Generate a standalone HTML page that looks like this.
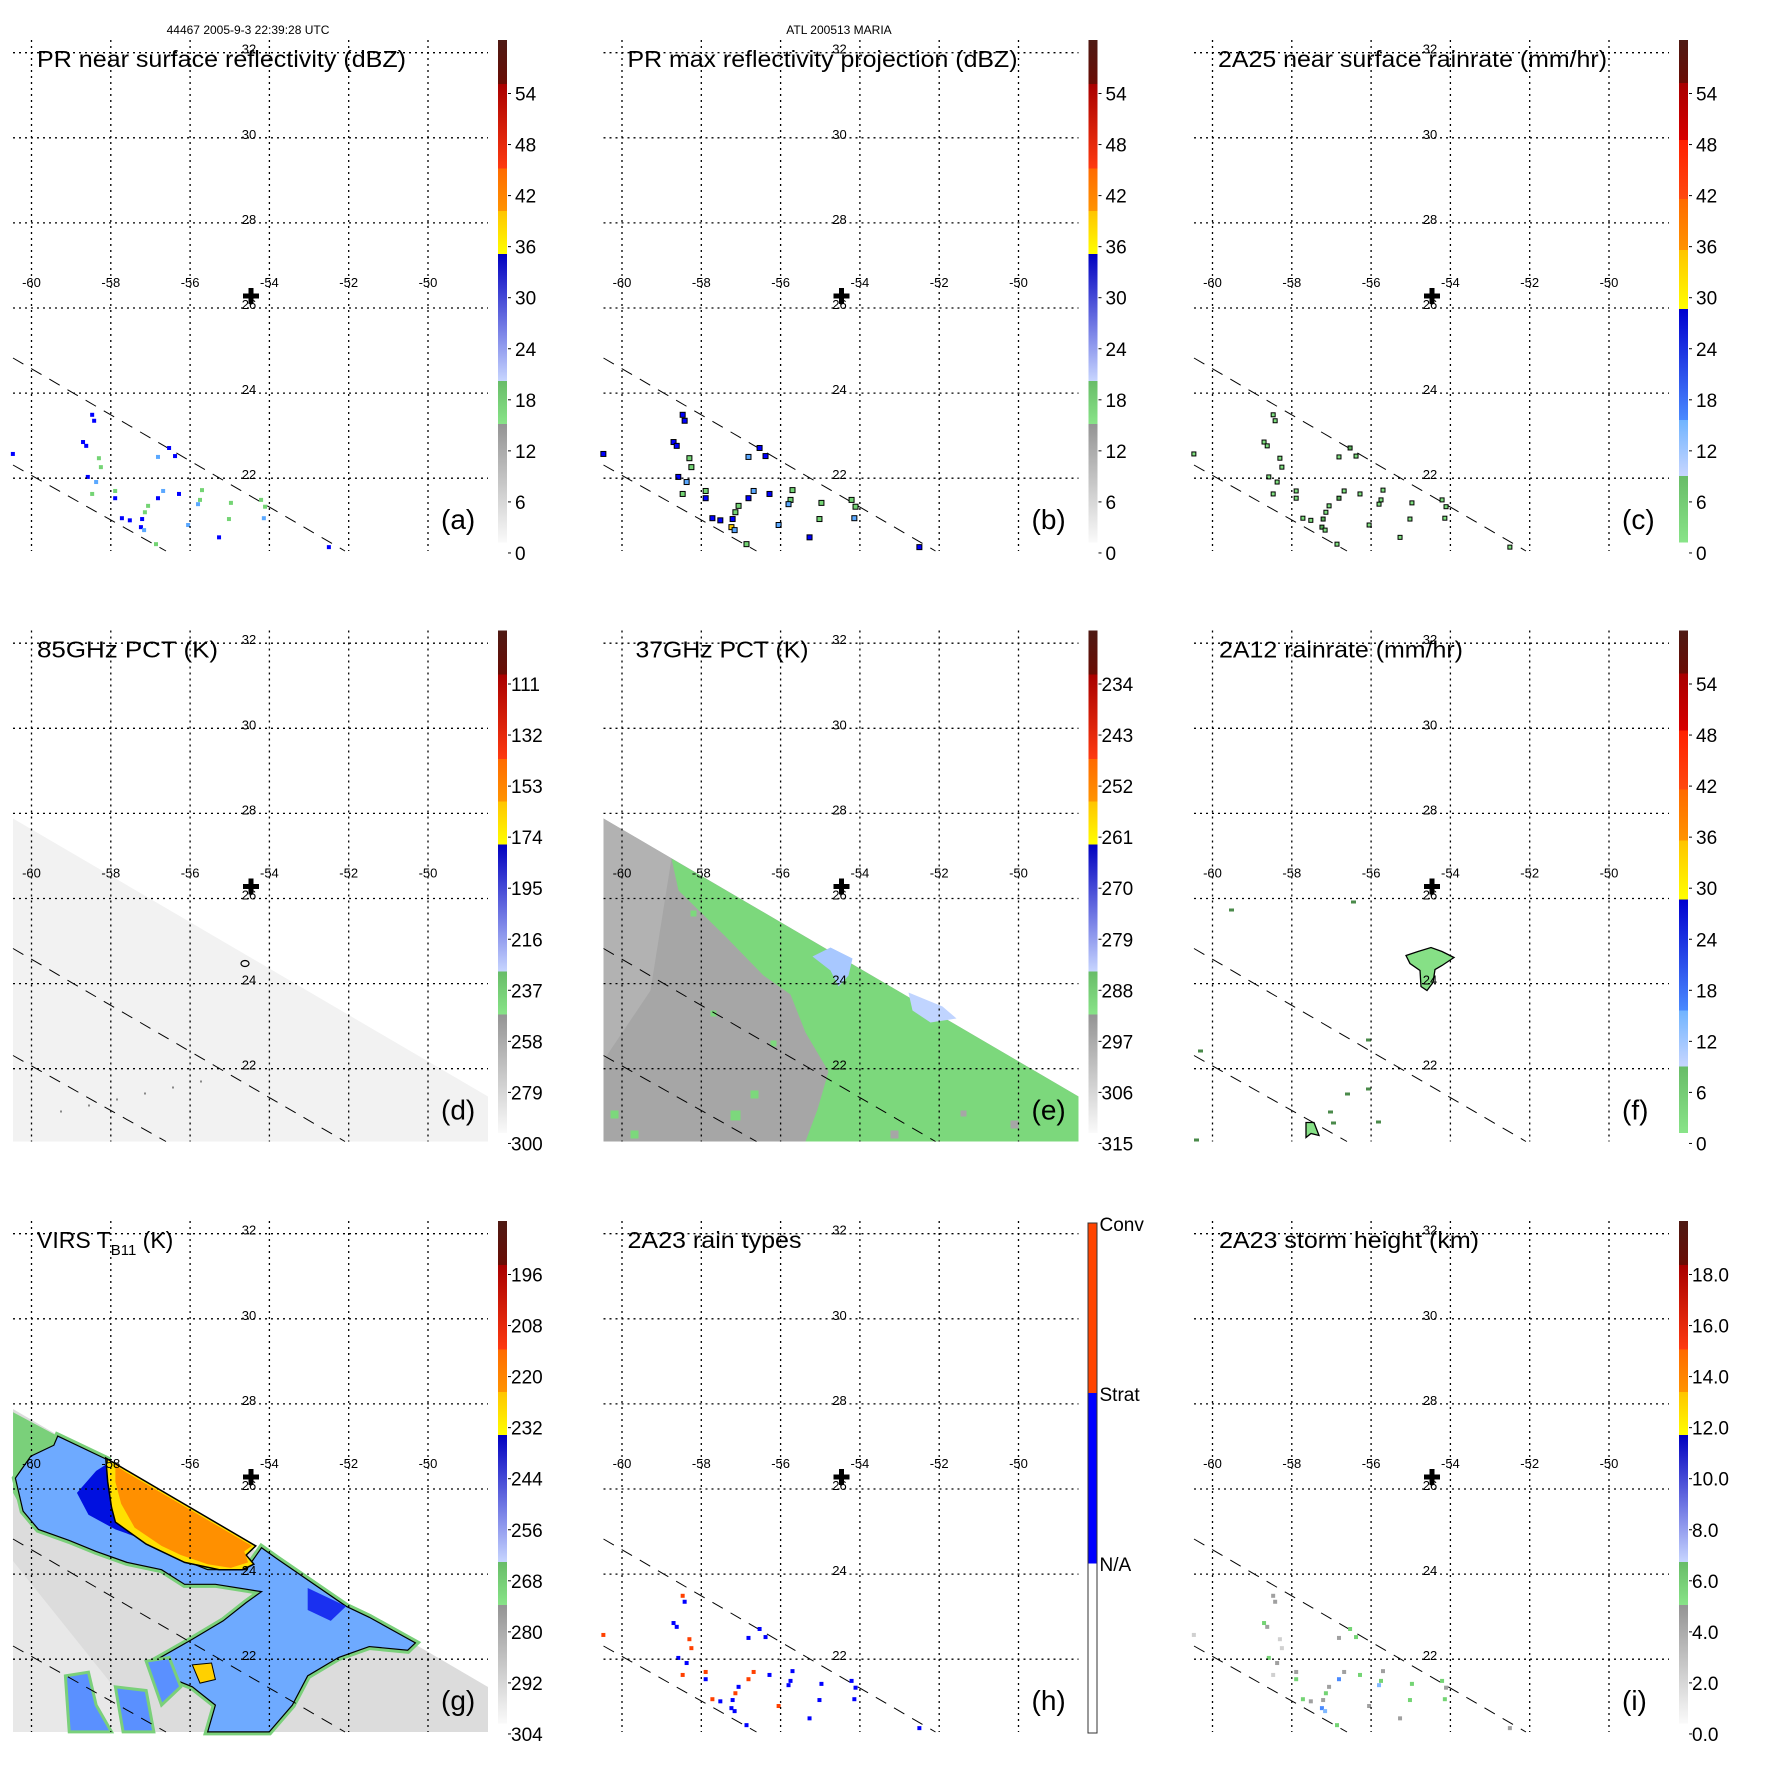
<!DOCTYPE html>
<html><head><meta charset="utf-8">
<style>
html,body{margin:0;padding:0;background:#fff;}
svg{display:block;font-family:"Liberation Sans",Arial,sans-serif;}
</style></head>
<body>
<svg id="fig" width="1771" height="1771" viewBox="0 0 1771 1771" xmlns="http://www.w3.org/2000/svg">
<defs id="defs"></defs>
<text x="248" y="34" font-size="12" text-anchor="middle">44467 2005-9-3 22:39:28 UTC</text>
<text x="839" y="34" font-size="12" text-anchor="middle">ATL 200513 MARIA</text>
</svg>
<script>
// ---- data ----
const lonTicks = [-60,-58,-56,-54,-52,-50];
const latTicks = [32,30,28,26,24,22];
const ptLon = [-58.47,-58.42,-58.70,-58.62,-56.53,-56.38,-56.81,-58.30,-58.25,-58.58,-58.37,-58.47,-57.89,-57.89,-56.81,-56.28,-55.75,-55.80,-54.97,-54.21,-54.11,-57.72,-57.52,-57.21,-57.14,-57.24,-57.16,-56.05,-55.27,-55.02,-52.50,-60.47,-56.86,-57.06,-56.68,-54.14,-55.70];
const ptLat = [23.49,23.35,22.85,22.76,22.71,22.52,22.50,22.47,22.26,22.03,21.91,21.63,21.70,21.53,21.53,21.63,21.49,21.39,21.42,21.49,21.33,21.06,21.01,21.04,21.20,20.85,20.78,20.90,20.61,21.04,20.38,22.57,20.45,21.35,21.70,21.06,21.72];
const ptDbz = [30,30,30,30,31,30,24,18,18,30,24,18,18,30,31,30,18,24,18,18,18,30,30,30,18,32,24,24,30,18,30,30,18,18,24,24,18];
const ptRain = [4,4,5,4,6,5,3,2,2,5,3,2,2,5,6,5,2,3,2,2,2,5,5,6,2,6,3,3,5,2,5,4,2,2,3,3,2];
const ptType = [1,2,2,2,2,2,2,1,1,2,2,1,1,2,1,2,2,2,2,2,2,1,2,2,1,2,2,1,2,2,2,1,2,2,1,2,2];
const ptHeight = [3,3,5,3,6,6,3,2,2,6,3,2,3,6,7,6,5,8,5,5,3,6,3,3,5,7,8,3,3,5,3,2,5,3,3,5,3];
const barLabelsA = ["54","48","42","36","30","24","18","12","6","0"];
const barLabelsD = ["111","132","153","174","195","216","237","258","279","300"];
const barLabelsE = ["234","243","252","261","270","279","288","297","306","315"];
const barLabelsG = ["196","208","220","232","244","256","268","280","292","304"];
const barLabelsI = ["18.0","16.0","14.0","12.0","10.0","8.0","6.0","4.0","2.0","0.0"];

const NS="http://www.w3.org/2000/svg";
const svg=document.getElementById('fig');
const defs=document.getElementById('defs');
function mk(tag,attrs,parent){const e=document.createElementNS(NS,tag);for(const k in attrs)e.setAttribute(k,attrs[k]);(parent||svg).appendChild(e);return e;}
function X(lon){return 31.5+(lon+60)*39.65;}
function Y(lat){return 52.7+(32-lat)*42.55;}

const grads={
 dr:['#4e1a14','#6a0c04'], rd:['#a80000','#ff3a10'], rd2:['#a80000','#d80000'], rr:['#ff2000','#ff4a10'],
 or:['#ff6a00','#ff9400'], ye:['#ffc400','#ffff00'],
 bl:['#0000c0','#c8d6ff'], bl2:['#0000d0','#4a8aff'], lb:['#70b4ff','#c8d6ff'],
 gr:['#68bc68','#88e488'], gy:['#949494','#fafafa']
};
for(const k in grads){const g=mk('linearGradient',{id:'g_'+k,x1:0,y1:0,x2:0,y2:1},defs);
 mk('stop',{offset:'0','stop-color':grads[k][0]},g);mk('stop',{offset:'1','stop-color':grads[k][1]},g);}
const barA=[[40,84,'dr'],[84,168.5,'rd'],[168.5,211,'or'],[211,254,'ye'],[254,381,'bl'],[381,424,'gr'],[424,542,'gy']];
const barR=[[40,83,'dr'],[83,140,'rd2'],[140,199,'rr'],[199,250,'or'],[250,309,'ye'],[309,420,'bl2'],[420,476,'lb'],[476,542,'gr']];

const swathEdge=[[13,228],[488,506],[488,551],[13,551]];

function colDbz(v){return v>=36?'#ffd000':v>=30?'#0000ff':v>=24?'#5aa8ff':v>=15?'#74d474':'#b0b0b0';}
function colRain(v){return v>=6?'#58b058':'#80e080';}
function colH(v){return v>=8?'#80b8ff':v>=7?'#4a8aff':v>=5?'#74d474':v>=3?'#a0a0a0':'#d0d0d0';}

const panels=[
 {id:'a',title:'PR near surface reflectivity (dBZ)',tx:37,tw:369,bar:'A',labels:barLabelsA,kind:'pts-dbz'},
 {id:'b',title:'PR max reflectivity projection (dBZ)',tx:37,tw:390,bar:'A',labels:barLabelsA,kind:'pts-max'},
 {id:'c',title:'2A25 near surface rainrate (mm/hr)',tx:37,tw:389,bar:'R',labels:barLabelsA,kind:'pts-rain'},
 {id:'d',title:'85GHz PCT (K)',tx:37,tw:181,bar:'A',labels:barLabelsD,kind:'d'},
 {id:'e',title:'37GHz PCT (K)',tx:45,tw:173,bar:'A',labels:barLabelsE,kind:'e'},
 {id:'f',title:'2A12 rainrate (mm/hr)',tx:38,tw:244,bar:'R',labels:barLabelsA,kind:'f'},
 {id:'g',title:'VIRS',tx:37,tw:148,bar:'A',labels:barLabelsG,kind:'g'},
 {id:'h',title:'2A23 rain types',tx:37,tw:174,bar:'H',labels:[],kind:'pts-type'},
 {id:'i',title:'2A23 storm height (km)',tx:38,tw:260,bar:'A',labels:barLabelsI,kind:'pts-h'}
];
const OFF=[0,590.5,1181];

function poly(g,pts,attrs){const a=Object.assign({points:pts.map(p=>p.join(',')).join(' ')},attrs);return mk('polygon',a,g);}

panels.forEach((p,i)=>{
 const g=mk('g',{transform:`translate(${OFF[i%3]},${OFF[Math.floor(i/3)]})`});
 
 
 const field=mk('g',{},g);
 
 

 if(p.kind==='d'){
  poly(field,swathEdge,{fill:'#f2f2f2'});
  for(let k=0;k<6;k++) mk('rect',{x:60+k*28,y:520-k*6,width:2,height:2,fill:'#888'},field);
  mk('ellipse',{cx:245,cy:373,rx:4,ry:3,fill:'none',stroke:'#000','stroke-width':1.2},field);
 }
 if(p.kind==='e'){
  poly(field,swathEdge,{fill:'#a6a6a6'});
  poly(field,[[13,228],[81,268],[60,400],[13,470]],{fill:'#b2b2b2'});
  poly(field,[[81,268],[88,300],[135,346],[173,385],[200,404],[215,442],[238,481],[227,519],[215,551],[488,551],[488,506]],{fill:'#7cd87c'});
  poly(field,[[222,366],[240,357],[262,368],[258,385],[248,396],[240,380]],{fill:'#a8c8ff'});
  poly(field,[[318,402],[352,416],[366,428],[340,432],[322,420]],{fill:'#c0d4ff'});
  [[20,520,8],[100,320,6],[120,420,6],[160,500,8],[180,450,6],[140,520,10],[40,540,8],[300,540,8],[370,520,6],[420,530,8]].forEach(r=>{
   mk('rect',{x:r[0],y:r[1],width:r[2],height:r[2],fill:r[0]>250?'#a6a6a6':'#7cd87c'},field);});
 }
 if(p.kind==='f'){
  poly(field,[[225,365],[237,361],[250,357],[261,361],[273,367],[261,375],[254,379],[252,392],[246,400],[240,396],[239,380],[229,373]],{fill:'#86e086',stroke:'#000','stroke-width':1.3});
  poly(field,[[125,532],[133,532],[138,545],[130,543],[125,547]],{fill:'#86e086',stroke:'#000','stroke-width':1.3});
  [[170,310],[48,318],[185,448],[17,459],[164,502],[150,531],[195,530],[13,548],[185,497],[147,520]].forEach(r=>{
   mk('rect',{x:r[0],y:r[1],width:5,height:3,fill:'#4a8a4a'},field);});
 }
 if(p.kind==='g'){
  const Z=pts=>pts.map(q=>[q[0]/2.6,q[1]/2.732+19]);
  poly(field,swathEdge,{fill:'#dcdcdc'});
  poly(field,[[13,380],[150,551],[13,551]],{fill:'#e8e8e8'});
  poly(field,Z([[34,580],[150,645],[180,930],[60,850],[34,800]]),{fill:'#7ad07a'});
  const blue=Z([[150,645],[280,710],[300,860],[420,960],[540,1010],[640,1010],[680,950],[720,980],[900,1110],[960,1140],[1080,1210],[1060,1230],[960,1220],[880,1250],[800,1300],[760,1380],[700,1453],[540,1453],[560,1380],[500,1330],[430,1300],[400,1260],[500,1200],[580,1150],[640,1100],[680,1070],[560,1050],[480,1050],[420,1010],[330,990],[250,960],[180,930],[100,900],[60,850],[40,760],[80,700],[140,670]]);
  poly(field,blue,{fill:'#7ad07a',stroke:'#7ad07a','stroke-width':7});
  poly(field,blue,{fill:'#6eaaff',stroke:'#000','stroke-width':1.2});
  [[[170,1300],[230,1290],[250,1380],[290,1453],[180,1453]],[[300,1330],[380,1340],[400,1453],[320,1453]],[[380,1260],[440,1250],[470,1330],[420,1380]]].forEach(pp=>{
   poly(field,Z(pp),{fill:'#5a90ff',stroke:'#7ad07a','stroke-width':3});});
  poly(field,Z([[280,720],[300,860],[380,930],[300,900],[230,860],[200,800],[250,740]]),{fill:'#0010e0'});
  poly(field,Z([[800,1060],[900,1110],[860,1150],[800,1120]]),{fill:'#1a30f0'});
  poly(field,Z([[275,705],[665,945],[640,970],[660,995],[630,1010],[570,1010],[480,990],[380,940],[300,880],[290,840],[280,770]]),{fill:'#ffe000',stroke:'#000','stroke-width':1.5});
  poly(field,Z([[300,725],[330,745],[655,945],[635,960],[645,990],[600,1005],[540,995],[470,970],[420,945],[350,895],[315,830],[300,770]]),{fill:'#ff9000'});
  poly(field,Z([[500,1270],[550,1265],[560,1310],[520,1320]]),{fill:'#ffd000',stroke:'#000','stroke-width':1});
 }
 const sw=mk('g',{stroke:'#000','stroke-width':1,'stroke-dasharray':'12,9',fill:'none'},g);
 
 
 mk('line',{x1:13,y1:358,x2:345,y2:551},sw);
 mk('line',{x1:13,y1:465,x2:166,y2:551},sw);

 if(p.kind.startsWith('pts')){
  const pg=mk('g',{},g);
  
  
  ptLon.forEach((lon,k)=>{
   let fill,stroke='none',s=4;
   if(p.kind==='pts-dbz') fill=colDbz(ptDbz[k]);
   if(p.kind==='pts-max'){fill=colDbz(ptDbz[k]+4);stroke='#000';s=5;}
   if(p.kind==='pts-rain'){fill=colRain(ptRain[k]);stroke='#000';s=4;}
   if(p.kind==='pts-type') fill=ptType[k]===1?'#ff4000':'#0000ff';
   if(p.kind==='pts-h') fill=colH(ptHeight[k]);
   const r=mk('rect',{x:X(lon)-s/2,y:Y(ptLat[k])-s/2,width:s,height:s,fill:fill,stroke:stroke,'stroke-width':1},pg);
   
   
  });
 }

 const grid=mk('g',{stroke:'#000','stroke-width':1.3,'stroke-dasharray':'2,4'},g);
 
 
 lonTicks.forEach(l=>mk('line',{x1:X(l),y1:40,x2:X(l),y2:551},grid));
 latTicks.forEach(l=>mk('line',{x1:13,y1:Y(l),x2:488,y2:Y(l)},grid));
 lonTicks.forEach(l=>{const t=mk('text',{x:X(l),y:287,'font-size':13,'text-anchor':'middle'},g);t.textContent=String(l);
  });
 latTicks.forEach(l=>{const t=mk('text',{x:249,y:Y(l)+1,'font-size':13,'text-anchor':'middle'},g);t.textContent=String(l);
  });
 const st=mk('path',{d:'M251,288 L251,304 M243,296 L259,296',stroke:'#000','stroke-width':5},g);
 
 

 const tt=mk('text',{x:p.tx,y:67,'font-size':23,textLength:p.tw,lengthAdjust:'spacingAndGlyphs'},g);
 
 
 if(p.kind==='g'){
  tt.removeAttribute('textLength');
  tt.innerHTML='VIRS T<tspan font-size="15" dy="7">B11</tspan><tspan dy="-7"> (K)</tspan>';
 } else tt.textContent=p.title;
 const pl=mk('text',{x:441,y:529,'font-size':28},g);
 pl.textContent='('+p.id+')';
 
 

 const cb=mk('g',{},g);
 
 
 if(p.bar==='H'){
  mk('rect',{x:497.5,y:42,width:9,height:170,fill:'#ff4400'},cb);
  mk('rect',{x:497.5,y:212,width:9,height:170.5,fill:'#0000ff'},cb);
  mk('rect',{x:497.5,y:382.5,width:9,height:169.5,fill:'#fff'},cb);
  mk('rect',{x:497.5,y:42,width:9,height:510,fill:'none',stroke:'#333','stroke-width':1},cb);
  [['Conv',50],['Strat',220],['N/A',390]].forEach(c=>{const t=mk('text',{x:509,y:c[1],'font-size':19},cb);t.textContent=c[0];
   });
 } else {
  (p.bar==='A'?barA:barR).forEach(s=>mk('rect',{x:498,y:s[0],width:9,height:s[1]-s[0]+0.5,fill:'url(#g_'+s[2]+')'},cb));
  p.labels.forEach((lab,k)=>{const y=93.5+k*51.05;
   mk('line',{x1:508,y1:y,x2:511,y2:y,stroke:'#000','stroke-width':1},cb);
   const t=mk('text',{x:lab.length>=3?511:515,y:y+7,'font-size':19},cb);t.textContent=lab;
   });
 }
});
</script>
</body></html>
